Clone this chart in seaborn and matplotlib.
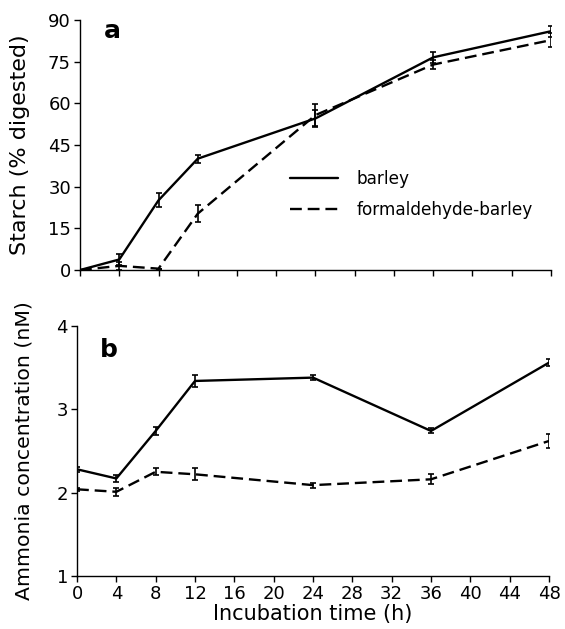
import numpy as np
import pandas as pd
import matplotlib
matplotlib.use("Agg")
import matplotlib.pyplot as plt
import seaborn as sns

# ---- data ----
hours = [0, 4, 8, 12, 24, 36, 48]
starch_barley = [0.0, 3.8, 25.1, 40.1, 54.6, 76.6, 86.0]
starch_barley_err = [0.0, 2.0, 2.5, 1.5, 3.0, 2.0, 2.0]
starch_form = [0.0, 1.5, 0.5, 20.3, 55.8, 74.0, 82.8]
starch_form_err = [0.0, 1.5, 0.0, 3.0, 4.0, 1.5, 2.5]

nh3_barley = [2.28, 2.17, 2.74, 3.34, 3.38, 2.74, 3.56]
nh3_barley_err = [0.03, 0.04, 0.05, 0.07, 0.03, 0.03, 0.04]
nh3_form = [2.04, 2.01, 2.25, 2.22, 2.09, 2.16, 2.62]
nh3_form_err = [0.02, 0.05, 0.04, 0.07, 0.03, 0.06, 0.08]

series_names = ["barley", "formaldehyde-barley"]
x_ticks = list(range(0, 49, 4))
starch_ticks = [0, 15, 30, 45, 60, 75, 90]
nh3_ticks = [1, 2, 3, 4]

sns.set_style("ticks")
plt.rcParams['font.family'] = ['DejaVu Sans']
plt.rcParams['text.color'] = 'black'
plt.rcParams['axes.labelcolor'] = 'black'
plt.rcParams['xtick.color'] = 'black'
plt.rcParams['ytick.color'] = 'black'

df_a = pd.DataFrame({
    "hours": hours * 2,
    "value": starch_barley + starch_form,
    "err": starch_barley_err + starch_form_err,
    "series": [series_names[0]] * len(hours) + [series_names[1]] * len(hours),
})
df_b = pd.DataFrame({
    "hours": hours * 2,
    "value": nh3_barley + nh3_form,
    "err": nh3_barley_err + nh3_form_err,
    "series": [series_names[0]] * len(hours) + [series_names[1]] * len(hours),
})

fig = plt.figure(figsize=(5.65, 6.29), dpi=100)
ax1 = fig.add_axes([0.1416, 0.5707, 0.8336, 0.3973])
ax2 = fig.add_axes([0.1363, 0.0843, 0.8354, 0.3975])

dash_map = {series_names[0]: "", series_names[1]: (5, 2.5)}

for ax, df in [(ax1, df_a), (ax2, df_b)]:
    sns.lineplot(data=df, x="hours", y="value", hue="series", style="series",
                 dashes=dash_map, palette=["black", "black"], linewidth=1.7,
                 ax=ax, legend=(ax is ax1), errorbar=None)
    for name in series_names:
        sub = df[df["series"] == name]
        ax.errorbar(sub["hours"], sub["value"], yerr=sub["err"], fmt="none",
                    ecolor="black", elinewidth=1.2, capsize=2.5, capthick=1.2)
    ax.set_xlim(0, 48)
    ax.set_xticks(x_ticks)
    sns.despine(ax=ax)
    ax.tick_params(axis="both", direction="out", length=4.5, width=1,
                   labelsize=13, colors="black", pad=2)
    for s in ["left", "bottom"]:
        ax.spines[s].set_linewidth(1.0)
        ax.spines[s].set_color("black")

ax1.set_ylim(0, 90)
ax1.set_yticks(starch_ticks)
ax1.set_xticklabels([])
ax1.set_xlabel("")
ax1.set_ylabel("Starch (% digested)", fontsize=16)
ax1.yaxis.set_label_coords(-0.106, 0.5)
ax1.text(0.051, 0.928, "a", transform=ax1.transAxes, fontsize=18,
         fontweight="bold", va="baseline", ha="left")
leg = ax1.legend(loc="upper left", bbox_to_anchor=(0.446, 0.40), frameon=False,
                 fontsize=12.2, handlelength=2.85, handletextpad=1.05,
                 labelspacing=0.75, borderpad=0, borderaxespad=0)
for line in leg.get_lines():
    line.set_linewidth(1.7)

ax2.set_ylim(1, 4)
ax2.set_yticks(nh3_ticks)
ax2.set_xlabel("Incubation time (h)", fontsize=15, labelpad=1)
ax2.set_ylabel("Ammonia concentration (nM)", fontsize=14.7)
ax2.yaxis.set_label_coords(-0.092, 0.5)
ax2.text(0.049, 0.876, "b", transform=ax2.transAxes, fontsize=18,
         fontweight="bold", va="baseline", ha="left")

fig.savefig("out.png", dpi=100)
